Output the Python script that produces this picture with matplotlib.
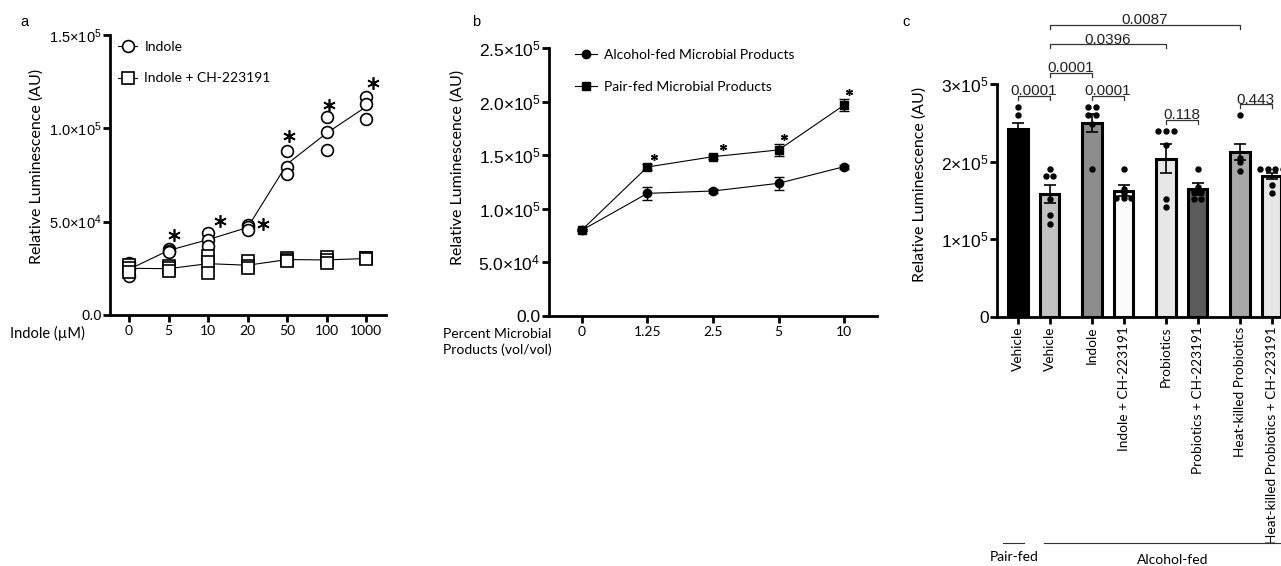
import matplotlib
matplotlib.use('Agg')
import matplotlib.pyplot as plt
import numpy as np
from matplotlib.lines import Line2D

plt.rcParams['font.family'] = ['Lato', 'DejaVu Sans']
plt.rcParams['mathtext.fontset'] = 'custom'
plt.rcParams['mathtext.rm'] = 'Liberation Sans'
plt.rcParams['mathtext.it'] = 'Liberation Sans:italic'
plt.rcParams['mathtext.bf'] = 'Liberation Sans:bold'

# ---------------- panel a data (values x1000) ----------------
a_doses = ['0', '5', '10', '20', '50', '100', '1000']
a_indole = [[27.9, 24.6, 20.9], [35.5, 34.5, 33.7], [43.9, 40.2, 37.0], [48.2, 47.0, 45.5],
            [87.9, 79.3, 75.5], [106.0, 98.0, 88.4], [116.8, 113.0, 105.0]]
a_indole_ch = [[27.0, 25.0, 23.0], [26.0, 25.0, 23.5], [31.6, 28.4, 22.5], [29.0, 26.0, 25.0],
               [30.6, 29.5, 29.0], [31.0, 29.5, 28.0], [30.5, 30.3, 30.0]]
a_star_idx = [1, 2, 3, 4, 5, 6]
a_yticks = [0, 50000, 100000, 150000]
a_yticklabels = ['0.0', '5.0\u00d710$^{4}$', '1.0\u00d710$^{5}$', '1.5\u00d710$^{5}$']

# ---------------- panel b data (values x1000) ----------------
b_percent = ['0', '1.25', '2.5', '5', '10']
b_alcohol = [80.0, 114.4, 116.6, 123.8, 139.3]
b_alcohol_sem = [1.0, 6.0, 2.0, 6.0, 2.0]
b_pair = [80.2, 139.0, 148.6, 154.9, 196.8]
b_pair_sem = [1.0, 2.5, 2.0, 6.0, 6.0]
b_star_idx = [1, 2, 3, 4]
b_yticks = [0, 50000, 100000, 150000, 200000, 250000]
b_yticklabels = ['0.0', '5.0\u00d710$^{4}$', '1.0\u00d710$^{5}$', '1.5\u00d710$^{5}$',
                 '2.0\u00d710$^{5}$', '2.5\u00d710$^{5}$']

# ---------------- panel c data (values x1000) ----------------
c_groups = ['Vehicle', 'Vehicle', 'Indole', 'Indole + CH-223191', 'Probiotics',
            'Probiotics + CH-223191', 'Heat-killed Probiotics',
            'Heat-killed Probiotics + CH-223191']
c_means = [241.7, 158.4, 249.4, 162.6, 203.9, 164.4, 212.4, 181.5]
c_sem = [8.6, 12.0, 11.7, 7.3, 19.0, 7.5, 10.3, 4.0]
c_points = [[270, 260, 240, 235, 230, 215],
            [191, 181, 181, 152, 131, 120],
            [271, 271, 260, 260, 249, 190],
            [190, 165, 160, 153, 153, 153],
            [240, 240, 240, 221, 152, 141],
            [190, 168, 161, 161, 152, 152],
            [260, 205, 200, 188],
            [190, 190, 190, 190, 170, 160]]
c_colors = ['#000000', '#c2c2c2', '#8c8c8c', '#fbfbfb', '#e6e6e6', '#5c5c5c', '#a8a8a8', '#e6e6e6']
c_pvals = [(0, 1, 285, '0.0001'), (2, 3, 285, '0.0001'), (1, 2, 314.5, '0.0001'),
           (1, 4, 351, '0.0396'), (1, 6, 376, '0.0087'), (4, 5, 253.6, '0.118'),
           (6, 7, 273.9, '0.443')]
c_yticks = [0, 100000, 200000, 300000]
c_yticklabels = ['0', '1\u00d710$^{5}$', '2\u00d710$^{5}$', '3\u00d710$^{5}$']

W, H = 1281, 566
fig = plt.figure(figsize=(W / 100, H / 100), dpi=100)


def px_axes(x0, y0, x1, y1):
    return fig.add_axes([x0 / W, 1 - y1 / H, (x1 - x0) / W, (y1 - y0) / H])


def style_axes(ax, fs_y):
    for s in ['top', 'right']:
        ax.spines[s].set_visible(False)
    for s in ['left', 'bottom']:
        ax.spines[s].set_linewidth(2.0)
    ax.tick_params(width=2.0, length=5, color='black')
    ax.tick_params(axis='y', labelsize=fs_y, pad=1)
    ax.tick_params(axis='x', labelsize=10, pad=2)
    for lab in ax.get_yticklabels():
        lab.set_fontfamily('Liberation Sans')


# ---------------- panel a ----------------
axa = px_axes(110, 35, 386, 315)
xa = np.arange(len(a_doses))
ind = np.array(a_indole) * 1000
ich = np.array(a_indole_ch) * 1000
axa.plot(xa, ind.mean(axis=1), color='black', lw=0.8, zorder=2)
axa.plot(xa, ich.mean(axis=1), color='black', lw=0.8, zorder=2)
for i in range(len(xa)):
    axa.plot([xa[i]] * 3, ind[i], 'o', ms=8.5, mfc='white', mec='black', mew=1.2, ls='none', zorder=3)
    axa.plot([xa[i]] * 3, ich[i], 's', ms=8.5, mfc='white', mec='black', mew=1.2, ls='none', zorder=3)
star_dx = [0.14, 0.3, 0.39, 0.05, 0.06, 0.18]
star_dy = [7400, 6500, 600, 8000, 6500, 7500]
for k, i in enumerate(a_star_idx):
    axa.plot(xa[i] + star_dx[k], ind[i].max() + star_dy[k], marker=(6, 2, 0), ms=9,
             mew=1.2, color='black', clip_on=False)
axa.set_xlim(-0.48, 6.5)
axa.set_ylim(0, 150000)
axa.set_xticks(xa)
axa.set_xticklabels(a_doses)
axa.set_yticks(a_yticks)
axa.set_yticklabels(a_yticklabels)
style_axes(axa, 10.5)
h1 = Line2D([], [], color='black', lw=0.8, marker='o', ms=8.5, mfc='white', mec='black', mew=1.2)
h2 = Line2D([], [], color='black', lw=0.8, marker='s', ms=8.5, mfc='white', mec='black', mew=1.2)
axa.legend([h1, h2], ['Indole', 'Indole + CH-223191'], loc='upper left', frameon=False,
           bbox_to_anchor=(111 / W, 1 - 34 / H), bbox_transform=fig.transFigure,
           fontsize=10, handlelength=1.4, handletextpad=0.5, labelspacing=1.4, borderpad=0)
fig.text(10 / W, 1 - 333 / H, 'Indole (\u00b5M)', fontsize=10.5, va='center', ha='left')
fig.text(37 / W, 1 - 166 / H, 'Relative Luminescence (AU)', fontsize=11.5, rotation=90,
         va='center', ha='center')
fig.text(20 / W, 1 - 22 / H, 'a', fontsize=10.5, fontfamily='Liberation Sans', va='center')

# ---------------- panel b ----------------
axb = px_axes(549, 48, 877, 316)
xb = np.arange(len(b_percent))
axb.errorbar(xb, np.array(b_alcohol) * 1000, yerr=np.array(b_alcohol_sem) * 1000, color='black',
             lw=0.8, marker='o', ms=6, capsize=3.5, elinewidth=1.0, capthick=1.0, zorder=3)
axb.errorbar(xb, np.array(b_pair) * 1000, yerr=np.array(b_pair_sem) * 1000, color='black',
             lw=0.8, marker='s', ms=6.2, capsize=3.5, elinewidth=1.0, capthick=1.0, zorder=3)
b_star_dx = [0.1, 0.15, 0.08, 0.07]
b_star_dy = [9600, 9400, 12400, 12200]
for k, i in enumerate(b_star_idx):
    axb.plot(xb[i] + b_star_dx[k], b_pair[i] * 1000 + b_star_dy[k], marker=(6, 2, 0), ms=5,
             mew=1.0, color='black', clip_on=False)
axb.set_xlim(-0.5, 4.5)
axb.set_ylim(0, 250000)
axb.set_xticks(xb)
axb.set_xticklabels(b_percent)
axb.set_yticks(b_yticks)
axb.set_yticklabels(b_yticklabels)
style_axes(axb, 12.5)
h3 = Line2D([], [], color='black', lw=0.8, marker='o', ms=6)
h4 = Line2D([], [], color='black', lw=0.8, marker='s', ms=6.2)
axb.legend([h3, h4], ['Alcohol-fed Microbial Products', 'Pair-fed Microbial Products'],
           loc='upper left', frameon=False, bbox_to_anchor=(568 / W, 1 - 42 / H),
           bbox_transform=fig.transFigure, fontsize=10, handlelength=1.6, handletextpad=0.5,
           labelspacing=1.45, borderpad=0)
fig.text(443 / W, 1 - 342 / H, 'Percent Microbial\nProducts (vol/vol)', fontsize=10,
         va='center', ha='left', linespacing=1.3)
fig.text(458 / W, 1 - 167 / H, 'Relative Luminescence (AU)', fontsize=11.5, rotation=90,
         va='center', ha='center')
fig.text(472 / W, 1 - 22 / H, 'b', fontsize=10.5, fontfamily='Liberation Sans', va='center')

# ---------------- panel c ----------------
axc = px_axes(997, 84, W, 317)
xc = np.array([0, 1, 2.35, 3.35, 4.7, 5.7, 7.05, 8.05])
axc.bar(xc, np.array(c_means) * 1000, width=0.63, color=c_colors, edgecolor='black',
        linewidth=2.2, zorder=2)
axc.errorbar(xc, np.array(c_means) * 1000, yerr=np.array(c_sem) * 1000, fmt='none',
             ecolor='black', elinewidth=1.2, capsize=4.5, capthick=1.2, zorder=3)
for i, pts in enumerate(c_points):
    vals = np.array(pts, dtype=float)
    for v in np.unique(vals):
        n = int((vals == v).sum())
        offs = (np.arange(n) - (n - 1) / 2) * 0.24
        axc.plot(xc[i] + offs, [v * 1000] * n, 'o', color='black', ms=3.6, zorder=4,
                 clip_on=False)
for i, j, y, txt in c_pvals:
    yy = y * 1000
    axc.plot([xc[i], xc[i], xc[j], xc[j]], [yy - 5000, yy, yy, yy - 5000], color='#333333',
             lw=0.9, clip_on=False)
    axc.text((xc[i] + xc[j]) / 2, yy + 800, txt, ha='center', va='baseline', fontsize=11,
             fontfamily='Liberation Sans', color='#222222')
axc.set_xlim(-0.667, 8.35)
axc.set_ylim(0, 300000)
axc.set_xticks(xc)
axc.set_xticklabels(c_groups, rotation=90)
axc.set_yticks(c_yticks)
axc.set_yticklabels(c_yticklabels)
style_axes(axc, 12.5)
axc.tick_params(axis='x', labelsize=9.8)
fig.text(920 / W, 1 - 184 / H, 'Relative Luminescence (AU)', fontsize=11.5, rotation=90,
         va='center', ha='center')
fig.text(902 / W, 1 - 22 / H, 'c', fontsize=10.5, fontfamily='Liberation Sans', va='center')
fig.add_artist(Line2D([1003 / W, 1024 / W], [1 - 543 / H] * 2, color='#333333', lw=0.8))
fig.add_artist(Line2D([1044 / W, 1.0], [1 - 543 / H] * 2, color='#333333', lw=0.8))
fig.text(1014 / W, 1 - 557 / H, 'Pair-fed', fontsize=10, ha='center', va='center')
fig.text(1173 / W, 1 - 560 / H, 'Alcohol-fed', fontsize=10, ha='center', va='center')

fig.savefig('out.png', dpi=100)
